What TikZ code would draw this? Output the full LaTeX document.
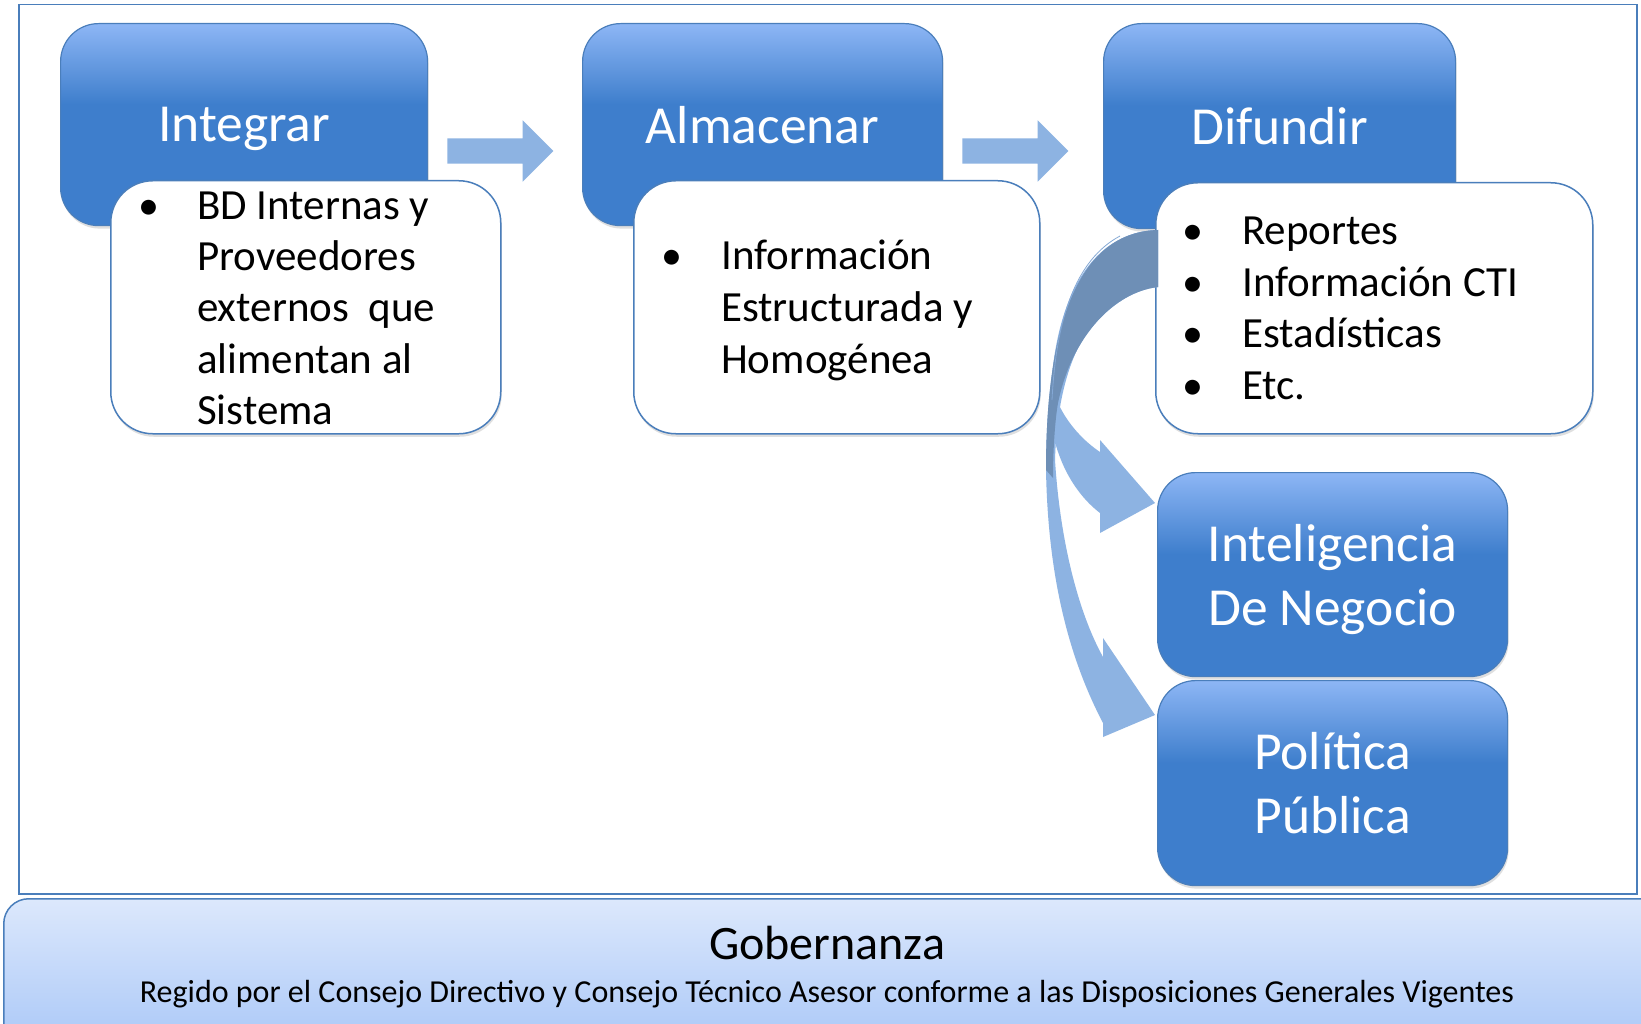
\documentclass[tikz,border=0pt]{standalone}
\usepackage{fontspec}
\setmainfont{Carlito}
\usetikzlibrary{shapes.arrows,shadows}

\definecolor{azulclaro}{RGB}{141,182,245}
\definecolor{azul}{RGB}{62,126,204}
\definecolor{borde}{RGB}{74,126,187}
\definecolor{flecha}{RGB}{141,179,226}
\definecolor{flechaosc}{RGB}{110,143,182}
\definecolor{gobarriba}{RGB}{220,232,252}
\definecolor{gobabajo}{RGB}{166,197,247}

\pgfdeclareverticalshading{cajaazul}{100bp}{color(0bp)=(azul); color(55bp)=(azul); color(75bp)=(azulclaro); color(100bp)=(azulclaro)}

\tikzset{
  caja/.style={draw=borde, line width=1.2pt, rounded corners=38pt, shade, shading=cajaazul,
    anchor=north west, text=white, align=center, text depth=0pt, font=\fontsize{53.5}{64}\selectfont,
    drop shadow={shadow xshift=1pt, shadow yshift=-3pt, opacity=.25}},
  lista/.style={draw=borde, line width=1.5pt, fill=white, rounded corners=42pt, anchor=north west,
    drop shadow={shadow xshift=1pt, shadow yshift=-3pt, opacity=.25}},
  texto/.style={anchor=base west, inner sep=0pt, font=\fontsize{43}{51}\selectfont},
  vineta/.style={anchor=base, inner sep=0pt, font=\fontsize{42}{51}\selectfont},
  recta/.style={single arrow, fill=flecha, draw=none, minimum height=106pt, minimum width=61pt,
    inner xsep=0pt, inner ysep=12.5pt, single arrow head extend=18pt}
}

\begin{document}
\begin{tikzpicture}[x=1pt, y=-1pt]
  \useasboundingbox (0,0) rectangle (1641,1024);

  % marco
  \node[draw=borde, line width=1.5pt, fill=white, anchor=north west, minimum width=1618pt,
    minimum height=889pt, inner sep=0pt] (marco) at (18,4) {};

  % gobernanza
  \node[draw=borde, line width=1.5pt, rounded corners=25pt, top color=gobarriba, bottom color=gobabajo,
    anchor=north west, minimum width=1680pt, minimum height=160pt] (gob) at (3,898) {};
  \node[font=\fontsize{48}{56}\selectfont, anchor=base] (gobtit) at (827,959) {Gobernanza};
  \node[font=\fontsize{32}{38}\selectfont, anchor=base] (gobsub) at (827,1002)
    {Regido por el Consejo Directivo y Consejo Técnico Asesor conforme a las Disposiciones Generales Vigentes};

  % cajas azules
  \node[caja, minimum width=367pt, minimum height=202pt] (integrar) at (60,23) {Integrar};
  \node[caja, minimum width=360pt, minimum height=202pt] (almacenar) at (582,23) {Almacenar};
  \node[caja, minimum width=352pt, minimum height=205pt] (difundir) at (1103,23) {Difundir};
  \node[caja, minimum width=350pt, minimum height=204pt] (inteligencia) at (1157,472) {Inteligencia\\De Negocio};
  \node[caja, minimum width=350pt, minimum height=205pt] (politica) at (1157,680) {Política\\Pública};

  % listas
  \node[lista, minimum width=390pt, minimum height=253pt] (lintegrar) at (110,180) {};
  \node[lista, minimum width=406pt, minimum height=253pt] (lalmacenar) at (633,180) {};
  \node[lista, minimum width=437pt, minimum height=251pt] (ldifundir) at (1155,182) {};

  \node[vineta] (vi) at (149,220) {•};
  \foreach \t/\y [count=\i] in {BD Internas y/220, Proveedores/271, externos\ \ que/322,
      alimentan al/373, Sistema/424}
    \node[texto] (ti\i) at (197,\y) {\t};

  \node[vineta] (va) at (672,270) {•};
  \foreach \t/\y [count=\i] in {Información/270, Estructurada y/322, Homogénea/373}
    \node[texto] (ta\i) at (721,\y) {\t};

  \foreach \t/\y [count=\i] in {Reportes/245, Información CTI/297, Estadísticas/348, Etc./399} {
    \node[vineta] (vd\i) at (1193,\y) {•};
    \node[texto] (td\i) at (1242,\y) {\t};
  }

  % flechas rectas
  \node[recta] (f1) at (494,151) {};
  \node[recta] (f2) at (1009,151) {};

  % flechas curvas
  \coordinate (s1) at (1158,230);
  \coordinate (s2) at (1158,287);
  % hacia politica
  \fill[flecha] (s1) .. controls (1080,232) and (1046,320) .. (1046,470)
    .. controls (1048,580) and (1070,660) .. (1103,723) -- (1103,737) -- (1155,715) -- (1103,638)
    -- (1103,657) .. controls (1078,612) and (1060,540) .. (1055,460)
    .. controls (1058,350) and (1100,290) .. (s2) -- cycle;
  % hacia inteligencia
  \fill[flecha] (s1) .. controls (1090,232) and (1052,300) .. (1050,410)
    .. controls (1052,450) and (1070,490) .. (1100,513) -- (1100,533) -- (1155,503) -- (1100,440)
    -- (1100,452) .. controls (1085,442) and (1068,425) .. (1058,403)
    .. controls (1072,335) and (1115,292) .. (s2) -- cycle;
  % parte trasera
  \fill[flechaosc] (s1) .. controls (1080,232) and (1046,320) .. (1046,470) -- (1053,478)
    .. controls (1053,450) and (1055,420) .. (1058,403)
    .. controls (1072,335) and (1115,292) .. (s2) -- cycle;
  \draw[flecha!70!flechaosc, line width=.8pt] (1120,236) .. controls (1075,260) and (1056,320) .. (1052,400);
\end{tikzpicture}
\end{document}
